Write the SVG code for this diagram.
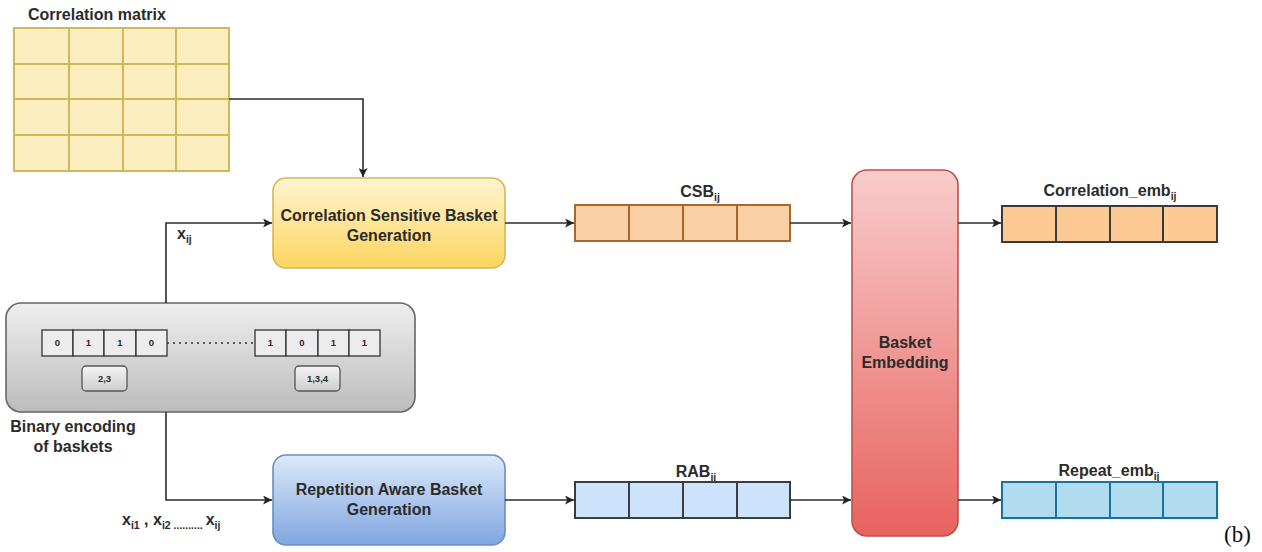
<svg xmlns="http://www.w3.org/2000/svg" width="1262" height="552" viewBox="0 0 1262 552">
<defs>
<linearGradient id="gY" x1="0" y1="0" x2="0" y2="1"><stop offset="0" stop-color="#fff4d0"/><stop offset="1" stop-color="#fcd55f"/></linearGradient>
<linearGradient id="gB" x1="0" y1="0" x2="0" y2="1"><stop offset="0" stop-color="#dce9fb"/><stop offset="1" stop-color="#7fa6df"/></linearGradient>
<linearGradient id="gR" x1="0" y1="0" x2="0" y2="1"><stop offset="0" stop-color="#f8cccb"/><stop offset="1" stop-color="#e8625f"/></linearGradient>
<linearGradient id="gG" x1="0" y1="0" x2="0" y2="1"><stop offset="0" stop-color="#eeeeee"/><stop offset="1" stop-color="#bcbcbc"/></linearGradient>
<linearGradient id="gS" x1="0" y1="0" x2="0" y2="1"><stop offset="0" stop-color="#f4f4f4"/><stop offset="1" stop-color="#cfcfcf"/></linearGradient>
<marker id="arr" viewBox="0 0 10 10" refX="10" refY="5" markerWidth="9" markerHeight="9" markerUnits="userSpaceOnUse" orient="auto"><path d="M0,0 L10,5 L0,10 L2.5,5 Z" fill="#222"/></marker>
</defs>
<style>
text{font-family:"Liberation Sans",Arial,sans-serif;font-weight:bold;fill:#2b2b2b}
.lbl{font-size:16px}
.sub{font-size:10.5px}
.bit{font-size:9.5px;text-anchor:middle}
.c{text-anchor:middle}
.conn{fill:none;stroke:#2b2b2b;stroke-width:1.6}
.mat{fill:#fdeebf;stroke:#d4b65a;stroke-width:2}
.csb{fill:#f9cfa6;stroke:#a8682c;stroke-width:2}
.rab{fill:#cce3fb;stroke:#3a3d42;stroke-width:2}
.cemb{fill:#fdc995;stroke:#3a3a3a;stroke-width:2}
.remb{fill:#b1dcef;stroke:#18739c;stroke-width:2}
.bitc{fill:#ececec;stroke:#333;stroke-width:1.3}
</style>
<rect width="1262" height="552" fill="#ffffff"/>

<g id="correlation-matrix">
<text class="lbl" x="28" y="20">Correlation matrix</text>
<g class="mat">
<rect x="14" y="28" width="55" height="36"/><rect x="69" y="28" width="54" height="36"/><rect x="123" y="28" width="53" height="36"/><rect x="176" y="28" width="53" height="36"/>
<rect x="14" y="64" width="55" height="35"/><rect x="69" y="64" width="54" height="35"/><rect x="123" y="64" width="53" height="35"/><rect x="176" y="64" width="53" height="35"/>
<rect x="14" y="99" width="55" height="36"/><rect x="69" y="99" width="54" height="36"/><rect x="123" y="99" width="53" height="36"/><rect x="176" y="99" width="53" height="36"/>
<rect x="14" y="135" width="55" height="36"/><rect x="69" y="135" width="54" height="36"/><rect x="123" y="135" width="53" height="36"/><rect x="176" y="135" width="53" height="36"/>
</g>
</g>

<g id="binary-encoding">
<rect x="6" y="303" width="409" height="109" rx="15" fill="url(#gG)" stroke="#666" stroke-width="1.6"/>
<rect class="bitc" x="42" y="330" width="31" height="26"/><rect class="bitc" x="73" y="330" width="31" height="26"/><rect class="bitc" x="104" y="330" width="32" height="26"/><rect class="bitc" x="136" y="330" width="31" height="26"/>
<text class="bit" x="57.5" y="346">0</text><text class="bit" x="88.5" y="346">1</text><text class="bit" x="120" y="346">1</text><text class="bit" x="151.5" y="346">0</text>
<line x1="167" y1="343" x2="255" y2="343" stroke="#333" stroke-width="1.3" stroke-dasharray="2,4"/>
<rect class="bitc" x="255" y="330" width="31" height="26"/><rect class="bitc" x="286" y="330" width="32" height="26"/><rect class="bitc" x="318" y="330" width="31" height="26"/><rect class="bitc" x="349" y="330" width="31" height="26"/>
<text class="bit" x="270.5" y="346">1</text><text class="bit" x="302" y="346">0</text><text class="bit" x="333.5" y="346">1</text><text class="bit" x="364.5" y="346">1</text>
<rect x="82" y="366" width="45" height="25" rx="4" fill="url(#gS)" stroke="#555" stroke-width="1.3"/>
<text class="bit" x="104.5" y="382">2,3</text>
<rect x="295" y="366" width="45" height="25" rx="4" fill="url(#gS)" stroke="#555" stroke-width="1.3"/>
<text class="bit" x="317.5" y="382">1,3,4</text>
<text class="lbl c" x="73" y="432">Binary encoding</text>
<text class="lbl c" x="73" y="452">of baskets</text>
</g>

<g id="csb-generation">
<rect x="273" y="178" width="232" height="90" rx="13" fill="url(#gY)" stroke="#d6b656" stroke-width="1.6"/>
<text class="lbl c" x="389" y="221">Correlation Sensitive Basket</text>
<text class="lbl c" x="389" y="241">Generation</text>
</g>

<g id="rab-generation">
<rect x="273" y="455" width="232" height="90" rx="13" fill="url(#gB)" stroke="#6c8ebf" stroke-width="1.6"/>
<text class="lbl c" x="389" y="495">Repetition Aware Basket</text>
<text class="lbl c" x="389" y="515">Generation</text>
</g>

<g id="csb-vector">
<text class="lbl c" x="700" y="197">CSB<tspan class="sub" dy="4">ij</tspan></text>
<g class="csb"><rect x="575" y="205" width="54" height="36"/><rect x="629" y="205" width="54" height="36"/><rect x="683" y="205" width="54" height="36"/><rect x="737" y="205" width="53" height="36"/></g>
</g>

<g id="rab-vector">
<text class="lbl c" x="696" y="477">RAB<tspan class="sub" dy="4">ij</tspan></text>
<g class="rab"><rect x="575" y="482" width="54" height="36"/><rect x="629" y="482" width="54" height="36"/><rect x="683" y="482" width="54" height="36"/><rect x="737" y="482" width="53" height="36"/></g>
</g>

<g id="basket-embedding">
<rect x="852" y="170" width="106" height="366" rx="15" fill="url(#gR)" stroke="#b85450" stroke-width="1.6"/>
<text class="lbl c" x="905" y="348">Basket</text>
<text class="lbl c" x="905" y="368">Embedding</text>
</g>

<g id="correlation-emb">
<text class="lbl c" x="1110" y="196">Correlation_emb<tspan class="sub" dy="4">ij</tspan></text>
<g class="cemb"><rect x="1002" y="206" width="54" height="36"/><rect x="1056" y="206" width="54" height="36"/><rect x="1110" y="206" width="53" height="36"/><rect x="1163" y="206" width="54" height="36"/></g>
</g>

<g id="repeat-emb">
<text class="lbl c" x="1109" y="476">Repeat_emb<tspan class="sub" dy="4">ij</tspan></text>
<g class="remb"><rect x="1002" y="482" width="54" height="36"/><rect x="1056" y="482" width="54" height="36"/><rect x="1110" y="482" width="53" height="36"/><rect x="1163" y="482" width="54" height="36"/></g>
</g>

<g id="connectors">
<path class="conn" d="M229,99 H363 V177" marker-end="url(#arr)"/>
<path class="conn" d="M166,303 V223 H272" marker-end="url(#arr)"/>
<path class="conn" d="M166,412 V500 H272" marker-end="url(#arr)"/>
<path class="conn" d="M505,223 H574" marker-end="url(#arr)"/>
<path class="conn" d="M790,223 H851" marker-end="url(#arr)"/>
<path class="conn" d="M505,500 H574" marker-end="url(#arr)"/>
<path class="conn" d="M790,500 H851" marker-end="url(#arr)"/>
<path class="conn" d="M958,223 H1001" marker-end="url(#arr)"/>
<path class="conn" d="M958,500 H1001" marker-end="url(#arr)"/>
<text class="lbl" x="177" y="239">x<tspan class="sub" dy="4">ij</tspan></text>
<text class="lbl" x="122" y="525">x<tspan class="sub" dy="4">i1</tspan><tspan dy="-4"> , </tspan>x<tspan class="sub" dy="4">i2 .......... </tspan><tspan dy="-4">x</tspan><tspan class="sub" dy="4">ij</tspan></text>
</g>

<text x="1224" y="542" style="font-family:'Liberation Serif','Times New Roman',serif;font-weight:normal;font-size:23px;fill:#111">(b)</text>
</svg>
